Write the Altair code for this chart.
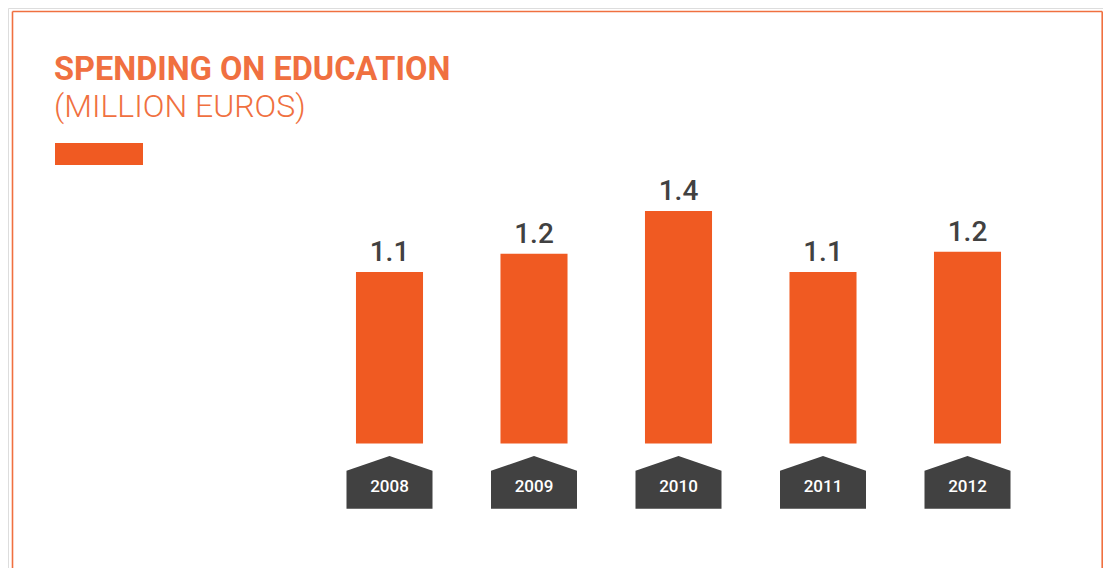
import altair as alt
import pandas as pd

years = ["2008", "2009", "2010", "2011", "2012"]
spending = [1.10, 1.19, 1.40, 1.10, 1.20]

title_text = "SPENDING ON EDUCATION"
subtitle_text = "(MILLION EUROS)"

ORANGE = "#f05a22"
FRAME = "#f07040"
DARK = "#414141"
FONT = "Roboto"

df = pd.DataFrame({"year": years, "value": spending})

W, H = 1095, 560

xs = alt.X("year:N", axis=None,
           scale=alt.Scale(range=[309.25, 1031.75], paddingInner=0.536, paddingOuter=0.268))
ys = alt.Y("value:Q", axis=None,
           scale=alt.Scale(domain=[0.2564, 1.4], range=[435.5, 203], zero=False, nice=False))

base = alt.Chart(df)

bars = base.mark_bar(color=ORANGE).encode(x=xs, y=ys, y2=alt.datum(0.2564))

labels = base.mark_text(font=FONT, fontSize=28, fontWeight=500, color=DARK,
                        baseline="alphabetic", dy=-11).encode(
    x=xs, y=ys, text=alt.Text("value:Q", format=".1f"))

badge_path = "M -1 -0.27 L 0 -0.6125 L 1 -0.27 L 1 0.6125 L -1 0.6125 Z"
badges = base.mark_point(shape=badge_path, filled=True, fill=DARK, opacity=1,
                         strokeWidth=0, size=86 * 86).encode(
    x=xs, y=alt.value(474.35))

year_text = base.mark_text(font=FONT, fontSize=17, fontWeight=500, color="white",
                           baseline="alphabetic").encode(
    x=xs, y=alt.value(484), text="year:N")

one = alt.Chart(pd.DataFrame({"t": [title_text], "s": [subtitle_text]}))

title = one.mark_text(font=FONT, fontSize=32.5, fontWeight="bold", color=FRAME,
                      align="left", baseline="alphabetic").encode(
    x=alt.value(46), y=alt.value(72), text="t:N")
subtitle = one.mark_text(font=FONT, fontSize=32, fontWeight=300, color=FRAME,
                         align="left", baseline="alphabetic").encode(
    x=alt.value(46), y=alt.value(109), text="s:N")

accent = one.mark_rect(color=ORANGE).encode(
    x=alt.value(47), x2=alt.value(135), y=alt.value(135), y2=alt.value(157))

frame_top = one.mark_rule(color=FRAME, strokeWidth=1.6).encode(
    x=alt.value(4.5), x2=alt.value(1094.2), y=alt.value(3.5))
frame_left = one.mark_rule(color=FRAME, strokeWidth=1.6).encode(
    x=alt.value(4.5), y=alt.value(3.5), y2=alt.value(H + 20))
frame_right = one.mark_rule(color=FRAME, strokeWidth=1.6).encode(
    x=alt.value(1094.2), y=alt.value(3.5), y2=alt.value(H + 20))

chart = alt.layer(
    frame_top, frame_left, frame_right, title, subtitle, accent,
    bars, labels, badges, year_text
).resolve_scale(y="shared").properties(
    width=W, height=H,
    autosize=alt.AutoSizeParams(type="none"),
    padding=0,
).configure_view(stroke=None).configure(background="white")

chart.save("out.html", embed_options={"renderer": "svg", "actions": False})
